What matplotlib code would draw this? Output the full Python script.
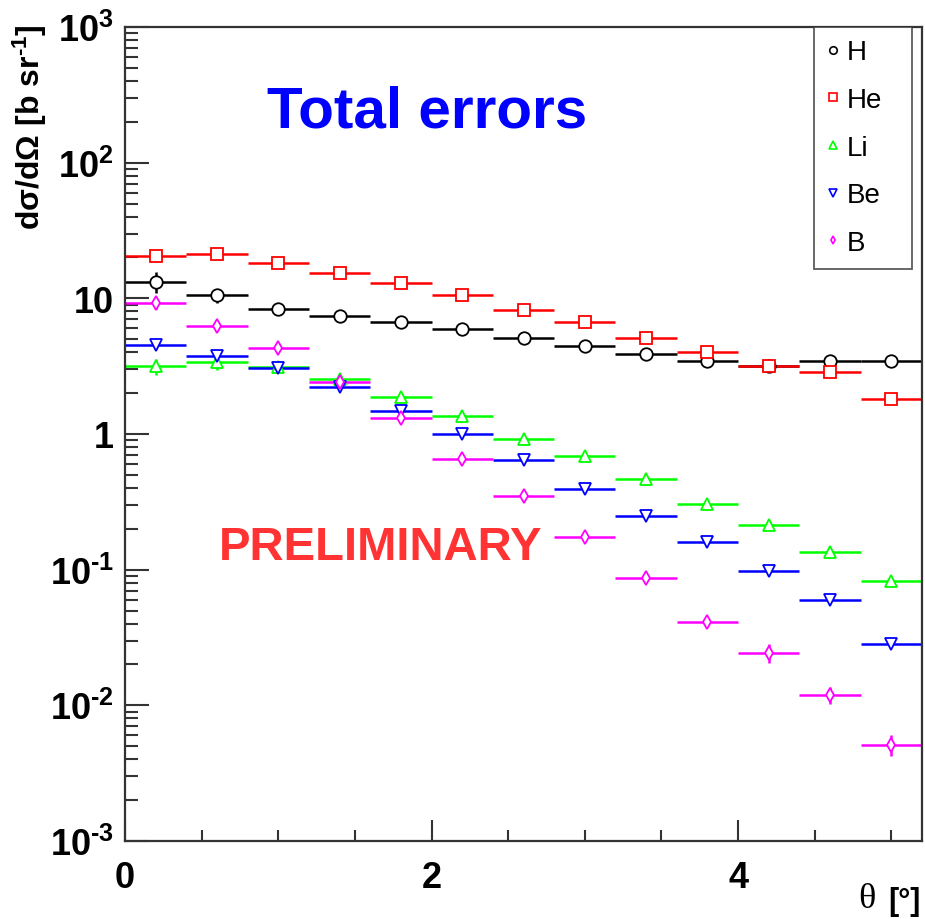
import numpy as np
import matplotlib
matplotlib.use("Agg")
import matplotlib.pyplot as plt
from matplotlib.lines import Line2D
from matplotlib.ticker import LogLocator, NullFormatter

plt.rcParams['font.family'] = ['Liberation Sans', 'DejaVu Sans']
plt.rcParams['mathtext.fontset'] = 'custom'
plt.rcParams['mathtext.rm'] = 'Liberation Sans:bold'
plt.rcParams['mathtext.it'] = 'Liberation Sans:bold'
plt.rcParams['mathtext.bf'] = 'Liberation Sans:bold'

# bin centres (deg), half bin width 0.2
theta = [0.2, 0.6, 1.0, 1.4, 1.8, 2.2, 2.6, 3.0, 3.4, 3.8, 4.2, 4.6, 5.0]
half_width = 0.2

h_val = [13.3, 10.5, 8.4, 7.46, 6.74, 5.95, 5.14, 4.46, 3.89, 3.43, 3.15, 3.48, 3.48]
h_err = [2.4, 1.3, 0.4, 0.3, 0.25, 0.2, 0.15, 0.12, 0.1, 0.1, 0.1, 0.1, 0.1]
he_val = [20.4, 21.4, 18.3, 15.3, 12.9, 10.5, 8.2, 6.7, 5.08, 4.03, 3.15, 2.84, 1.81]
he_err = [0.8, 0.8, 0.6, 0.5, 0.4, 0.3, 0.25, 0.2, 0.15, 0.12, 0.1, 0.08, 0.06]
li_val = [3.15, 3.38, 3.11, 2.54, 1.88, 1.36, 0.914, 0.685, 0.467, 0.307, 0.214, 0.134, 0.0826]
li_err = [0.45, 0.4, 0.2, 0.12, 0.08, 0.05, 0.03, 0.02, 0.015, 0.01, 0.008, 0.005, 0.004]
be_val = [4.54, 3.77, 3.06, 2.23, 1.47, 1.0, 0.641, 0.396, 0.248, 0.160, 0.0978, 0.0602, 0.0282]
be_err = [0.3, 0.3, 0.15, 0.1, 0.06, 0.04, 0.025, 0.015, 0.01, 0.006, 0.004, 0.003, 0.0015]
b_val = [9.19, 6.26, 4.27, 2.41, 1.31, 0.652, 0.348, 0.175, 0.0873, 0.0412, 0.0245, 0.0119, 0.0051]
b_err = [0.8, 0.4, 0.25, 0.15, 0.07, 0.03, 0.02, 0.012, 0.006, 0.003, 0.004, 0.0017, 0.0009]

names = ['H', 'He', 'Li', 'Be', 'B']
colors = ['black', '#ff0000', '#00ff00', '#0000ff', '#ff00ff']
markers = ['o', 's', '^', 'v', 'd']
values = [h_val, he_val, li_val, be_val, b_val]
errors = [h_err, he_err, li_err, be_err, b_err]

fig = plt.figure(figsize=(9.25, 9.2), dpi=100)
ax = fig.add_axes([125/925, 1-842/920, 797/925, 814/920])

handles = []
for name, col, mk, val, err in zip(names, colors, markers, values, errors):
    ms = 7 if mk == 'd' else 9
    ax.errorbar(theta, val, xerr=half_width, yerr=err, fmt=mk, color=col,
                mfc='white', mec=col, ms=ms, mew=1.3,
                elinewidth=1.8, capsize=0)
    handles.append(Line2D([], [], ls='none', marker=mk, mfc='white', mec=col,
                          ms=ms*0.6, mew=1.2, label=name))

ax.set_yscale('log')
ax.set_ylim(1e-3, 1e3)
ax.set_xlim(0, 5.2)

ax.set_xticks([0, 2, 4])
ax.set_xticklabels(['0', '2', '4'])
ax.set_xticks(np.arange(0, 5.21, 0.5), minor=True)
yt = [1e-3, 1e-2, 1e-1, 1, 10, 1e2, 1e3]
ytl = ['$10^{\\text{-3}}$', '$10^{\\text{-2}}$', '$10^{\\text{-1}}$', '1', '10',
       '$10^{2}$', '$10^{3}$']
ax.set_yticks(yt)
ax.set_yticklabels(ytl)
ax.yaxis.set_minor_locator(LogLocator(base=10, subs=np.arange(2, 10), numticks=100))
ax.yaxis.set_minor_formatter(NullFormatter())
ax.tick_params(axis='both', which='both', direction='in', colors='#333333',
               labelcolor='black', width=1.5)
ax.tick_params(axis='y', which='major', length=17, pad=8, labelsize=26)
ax.tick_params(axis='y', which='minor', length=9)
ax.tick_params(axis='x', which='major', length=15, pad=14, labelsize=26)
ax.tick_params(axis='x', which='minor', length=8)
for lab in ax.get_xticklabels() + ax.get_yticklabels():
    lab.set_fontweight('bold')
for sp in ax.spines.values():
    sp.set_linewidth(1.6)
    sp.set_color('#333333')

fig.text(30/925, 1-24/920, 'd\u03c3/d\u03a9 [b sr$^{\\text{-1}}$]', rotation=90,
         ha='center', va='top', fontsize=23, fontweight='bold')
fig.text(921/925, 1-902/920, '[\u00b0]', ha='right', va='center',
         fontsize=22, fontweight='bold')
fig.text(876/925, 1-900/920, '\u03b8', ha='right', va='center',
         fontsize=26, family='Liberation Serif')

ax.text((427-125)/797, 1-(113-28)/814, 'Total errors', transform=ax.transAxes,
        ha='center', va='center', fontsize=42, fontweight='bold', color='#0000ff')
ax.text((381-125)/797, 1-(548-28)/814, 'PRELIMINARY', transform=ax.transAxes,
        ha='center', va='center', fontsize=34, fontweight='bold', color='#ff3333')

leg = ax.legend(handles=handles, loc='upper left',
                bbox_to_anchor=(0.864, 0.5, 0.123, 0.5), mode='expand',
                fontsize=20, handlelength=0.5, handletextpad=0.25,
                labelspacing=0.78, borderpad=0.45, borderaxespad=0,
                frameon=True, fancybox=False)
leg.get_frame().set_edgecolor('#333333')
leg.get_frame().set_linewidth(1.3)
leg._legend_box.align = 'left'

fig.savefig('out.png', dpi=100)
